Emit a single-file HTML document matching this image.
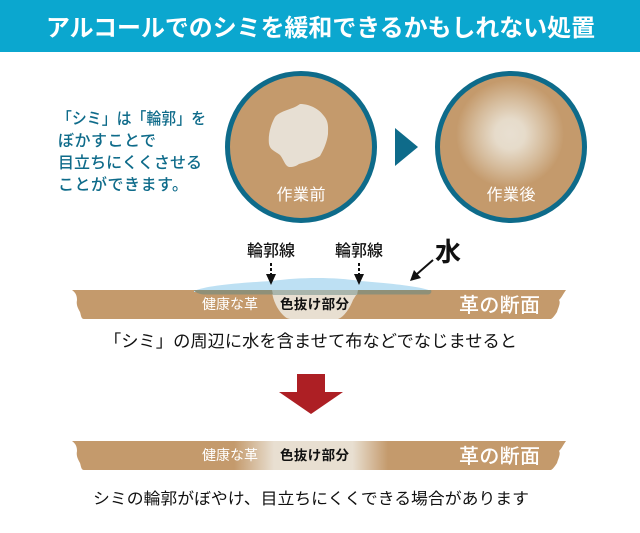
<!DOCTYPE html>
<html lang="ja"><head><meta charset="utf-8"><style>
html,body{margin:0;padding:0;background:#fff}
svg{display:block}
text{font-family:"Liberation Sans","Noto Sans CJK JP",sans-serif}
</style></head><body>
<svg width="640" height="533" viewBox="0 0 640 533" xmlns="http://www.w3.org/2000/svg">
<defs>
<radialGradient id="g1" gradientUnits="userSpaceOnUse" cx="510" cy="134" r="54">
<stop offset="0" stop-color="#e8dfd1"/><stop offset=".28" stop-color="#e6dbca"/><stop offset=".65" stop-color="#d5bb9b"/><stop offset="1" stop-color="#c49a6c"/>
</radialGradient>
<linearGradient id="g2" gradientUnits="userSpaceOnUse" x1="234" x2="388" y1="0" y2="0">
<stop offset="0" stop-color="#c49a6c"/><stop offset=".26" stop-color="#e8dfd1"/><stop offset=".77" stop-color="#e8dfd1"/><stop offset="1" stop-color="#c49a6c"/>
</linearGradient>
</defs>
<rect width="640" height="52" fill="#0ba7cf"/>
<text x="46" y="36" font-size="24" font-weight="700" fill="#fff" textLength="549" lengthAdjust="spacingAndGlyphs">アルコールでのシミを緩和できるかもしれない処置</text>

<g font-size="16" fill="#0e6b8a" font-weight="500">
<text x="57" y="124" textLength="149" lengthAdjust="spacingAndGlyphs">「シミ」は「輪郭」を</text>
<text x="58" y="146" textLength="98">ぼかすことで</text>
<text x="58" y="168" textLength="144">目立ちにくくさせる</text>
<text x="58" y="190" textLength="130">ことができます。</text>
</g>

<circle cx="301" cy="147" r="73.5" fill="#c49a6c" stroke="#0e6b8a" stroke-width="5"/>
<path d="M300 104C310 104 319 109 324 116C329 122 328 128 328 134C327 142 324 149 320 156C314 160 306 162 299 164C295 167 292 167 289 167C285 166 284 160 280 155C275 151 270 150 269 144C268 136 270 126 275 117C281 110 292 110 300 104Z" fill="#e7dfd3"/>
<text x="301" y="200" font-size="16" fill="#fff" text-anchor="middle" textLength="49">作業前</text>
<polygon points="395,128 418,147 395,166" fill="#0e6b8a"/>
<circle cx="511" cy="147" r="73.5" fill="#c49a6c" stroke="#0e6b8a" stroke-width="5"/>
<circle cx="510" cy="134" r="54" fill="url(#g1)"/>
<text x="511" y="200" font-size="16" fill="#fff" text-anchor="middle" textLength="49">作業後</text>

<g font-size="16" fill="#111" font-weight="500">
<text x="247" y="256" textLength="48">輪郭線</text>
<text x="335" y="256" textLength="48">輪郭線</text>
</g>
<text x="435" y="261" font-size="26" font-weight="700" fill="#111">水</text>

<path d="M72 290H566C563 294 562 297 559 300C561 303 558 308 557 312C555 315 553 318 551 319H84C81 319 81 315 80 312C78 308 76 305 77 300C77 296 76 293 72 290Z" fill="#c49a6c"/>
<path d="M272 292C273 300 277 309 283 315C286 318 288 319 291 319H338C344 317 350 308 353 300L358 292Z" fill="#e8dfd1"/>
<path d="M194 291C205 286 235 283 272 281C300 277 335 277 360 281C385 283 420 286 431 291V292H194Z" fill="#bde0f3"/>
<path d="M194 290H431C432 292 431 294 428 294.500H204C198 294 195 292 194 290Z" fill="#8f9078"/>
<path d="M272 290H358L357 295H273Z" fill="#a9b5ac"/>

<g stroke="#111" stroke-width="2" stroke-dasharray="3 2" fill="none">
<line x1="271" y1="263" x2="271" y2="274"/><line x1="359" y1="263" x2="359" y2="274"/>
</g>
<polygon points="266,274 276,274 271,285" fill="#111"/>
<polygon points="354,274 364,274 359,285" fill="#111"/>
<line x1="433" y1="260" x2="417" y2="274" stroke="#111" stroke-width="2"/>
<polygon points="410,281 414,270 421,278" fill="#111"/>

<text x="202" y="309" font-size="14" fill="#fff" textLength="56">健康な革</text>
<text x="280" y="309" font-size="13.500" font-weight="700" fill="#111" textLength="69">色抜け部分</text>
<text x="459" y="312" font-size="20" font-weight="500" fill="#fff" textLength="81">革の断面</text>

<text x="104" y="347" font-size="17" fill="#111" textLength="413" lengthAdjust="spacingAndGlyphs">「シミ」の周辺に水を含ませて布などでなじませると</text>

<polygon points="297,374 325,374 325,392 343,392 311,414 279,392 297,392" fill="#ad1f24"/>

<path d="M72 441H566C563 445 562 448 559 451C561 454 558 459 557 463C555 466 553 469 551 470H84C81 470 81 466 80 463C78 459 76 456 77 451C77 447 76 444 72 441Z" fill="#c49a6c"/>
<rect x="234" y="441" width="154" height="29" fill="url(#g2)"/>
<text x="202" y="460" font-size="14" fill="#fff" textLength="56">健康な革</text>
<text x="280" y="460" font-size="13.500" font-weight="700" fill="#111" textLength="69">色抜け部分</text>
<text x="459" y="463" font-size="20" font-weight="500" fill="#fff" textLength="81">革の断面</text>

<text x="311" y="504" font-size="16" fill="#111" text-anchor="middle" textLength="436" lengthAdjust="spacingAndGlyphs">シミの輪郭がぼやけ、目立ちにくくできる場合があります</text>
</svg>
</body></html>
